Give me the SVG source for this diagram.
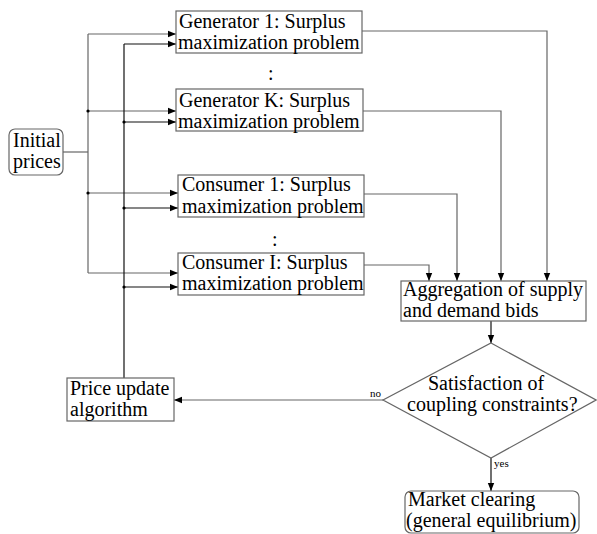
<svg xmlns="http://www.w3.org/2000/svg" width="597" height="534" viewBox="0 0 597 534">
<defs>
<style>
text{font-family:"Liberation Serif","Times New Roman",serif;font-size:20px;fill:#000}
.small{font-size:11px}
.box{fill:#fff;stroke:#666;stroke-width:1.2}
.ln{fill:none;stroke:#666;stroke-width:1.2}
.fb{fill:none;stroke:#111;stroke-width:1.2}
.dot{fill:#000}
</style>
<marker id="ah" viewBox="0 0 8 8" refX="8" refY="4" markerWidth="8" markerHeight="8" markerUnits="userSpaceOnUse" orient="auto">
<path d="M0,0.8 L8,4 L0,7.2 Z" fill="#000"/>
</marker>
</defs>
<rect width="597" height="534" fill="#fff"/>

<g id="connectors">
<path class="ln" d="M63,152 H88"/>
<path class="ln" d="M88,34 V273"/>
<path class="ln" d="M88,34 H176" marker-end="url(#ah)"/>
<path class="ln" d="M88,111 H176" marker-end="url(#ah)"/>
<path class="ln" d="M88,193 H178" marker-end="url(#ah)"/>
<path class="ln" d="M88,273 H178" marker-end="url(#ah)"/>
<circle class="dot" cx="88" cy="111" r="1.6"/>
<circle class="dot" cx="88" cy="193" r="1.6"/>
<path class="fb" d="M124,378 V44"/>
<path class="fb" d="M124,44 H176" marker-end="url(#ah)"/>
<path class="fb" d="M124,122 H176" marker-end="url(#ah)"/>
<path class="fb" d="M124,208 H178" marker-end="url(#ah)"/>
<path class="fb" d="M124,287 H178" marker-end="url(#ah)"/>
<circle class="dot" cx="124" cy="122" r="1.6"/>
<circle class="dot" cx="124" cy="208" r="1.6"/>
<circle class="dot" cx="124" cy="287" r="1.6"/>
<path class="ln" d="M362,31 H547 V281" marker-end="url(#ah)"/>
<path class="ln" d="M363,111 H501 V281" marker-end="url(#ah)"/>
<path class="ln" d="M364,194 H457 V281" marker-end="url(#ah)"/>
<path class="ln" d="M364,265 H429 V281" marker-end="url(#ah)"/>
<path class="fb" d="M491,321 V343" marker-end="url(#ah)"/>
<path class="ln" d="M383,400 H174" marker-end="url(#ah)"/>
<text class="small" x="370" y="397">no</text>
<path class="fb" d="M491,458 V491" marker-end="url(#ah)"/>
<text class="small" x="494" y="467">yes</text>
</g>

<g id="initial-prices">
<rect class="box" x="9" y="129" width="54" height="46" rx="6"/>
<text x="13" y="147">Initial</text>
<text x="13" y="168">prices</text>
</g>

<g id="generator-1">
<rect class="box" x="176" y="11" width="186" height="42"/>
<text x="179" y="28">Generator 1: Surplus</text>
<text x="178" y="49">maximization problem</text>
</g>

<g id="generator-dots">
<text x="268" y="80" font-size="22">:</text>
</g>

<g id="generator-k">
<rect class="box" x="176" y="89" width="187" height="42"/>
<text x="179" y="107">Generator K: Surplus</text>
<text x="178" y="128">maximization problem</text>
</g>

<g id="consumer-1">
<rect class="box" x="178" y="175" width="186" height="42"/>
<text x="182" y="191">Consumer 1: Surplus</text>
<text x="182" y="213">maximization problem</text>
</g>

<g id="consumer-dots">
<text x="272" y="246" font-size="22">:</text>
</g>

<g id="consumer-i">
<rect class="box" x="178" y="253" width="186" height="42"/>
<text x="182" y="269">Consumer I: Surplus</text>
<text x="182" y="290">maximization problem</text>
</g>

<g id="aggregation">
<rect class="box" x="401" y="281" width="185" height="40"/>
<text x="403" y="296">Aggregation of supply</text>
<text x="403" y="317">and demand bids</text>
</g>

<g id="decision">
<polygon class="box" points="491,343 596,400 491,458 383,400"/>
<text x="428" y="390">Satisfaction of</text>
<text x="407" y="411">coupling constraints?</text>
</g>

<g id="price-update">
<rect class="box" x="67" y="378" width="107" height="43"/>
<text x="70" y="395">Price update</text>
<text x="70" y="416">algorithm</text>
</g>

<g id="market-clearing">
<rect class="box" x="405" y="491" width="174" height="42" rx="6"/>
<text x="408" y="506">Market clearing</text>
<text x="406" y="527">(general equilibrium)</text>
</g>
</svg>
